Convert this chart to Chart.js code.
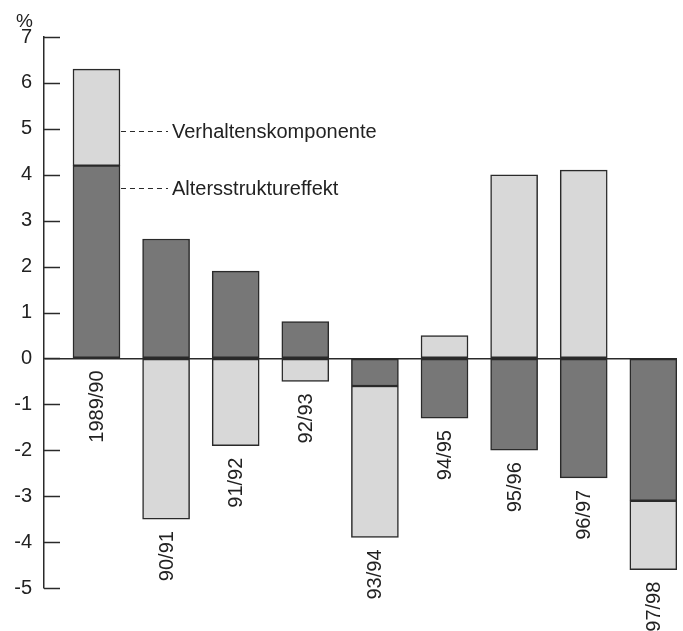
<!DOCTYPE html>
<html>
<head>
<meta charset="utf-8">
<script src="https://cdn.jsdelivr.net/npm/chart.js@4.4.1/dist/chart.umd.min.js"></script>
<style>
  html, body { margin: 0; padding: 0; background: #fff; }
  #wrap { width: 683px; height: 631px; position: relative; }
</style>
</head>
<body>
<div id="wrap"><canvas id="chart"></canvas></div>
<script>
'use strict';

// Daten
const categories = ['1989/90', '90/91', '91/92', '92/93', '93/94', '94/95', '95/96', '96/97', '97/98'];
const altersstruktur = [4.2, 2.6, 1.9, 0.8, -0.6, -1.3, -2.0, -2.6, -3.1];
const verhalten = [2.1, -3.5, -1.9, -0.5, -3.3, 0.5, 4.0, 4.1, -1.5];
const yTicks = { min: -5, max: 7, step: 1 };
const unitLabel = '%';
const annotationTexts = ['Verhaltenskomponente', 'Altersstruktureffekt'];
const annotationValues = [4.95, 3.72];

const FONT = '"Liberation Sans", Arial, sans-serif';
const DARK = '#777777';
const LIGHT = '#d8d8d8';
const EDGE = '#2a2a2a';

// Beschriftungen, Achsenstriche usw.
const extras = {
    id: 'extras',
    afterDatasetsDraw(chart) {
        const ctx = chart.ctx;
        const xs = chart.scales.x;
        const ys = chart.scales.y;
        const area = chart.chartArea;
        ctx.save();

        // Teilstriche nach innen
        ctx.strokeStyle = EDGE;
        ctx.lineWidth = 1.5;
        ys.ticks.forEach(function (t) {
            const y = Math.round(ys.getPixelForValue(t.value)) + 0.5;
            ctx.beginPath();
            ctx.moveTo(area.left, y);
            ctx.lineTo(area.left + 16, y);
            ctx.stroke();
        });

        // Einheit
        ctx.fillStyle = '#222';
        ctx.font = '19px ' + FONT;
        ctx.textAlign = 'right';
        ctx.textBaseline = 'alphabetic';
        ctx.fillText(unitLabel, 33, 27);

        // Kategorien (gedreht, unter dem Balkenende)
        ctx.font = '20px ' + FONT;
        categories.forEach(function (c, i) {
            const neg = Math.min(0, altersstruktur[i]) + Math.min(0, verhalten[i]);
            const x = xs.getPixelForValue(i);
            const y = ys.getPixelForValue(neg) + 12;
            ctx.save();
            ctx.translate(x + 1, y);
            ctx.rotate(-Math.PI / 2);
            ctx.textAlign = 'right';
            ctx.textBaseline = 'middle';
            ctx.fillText(c, 0, 0);
            ctx.restore();
        });

        // Legende am ersten Balken
        const bar = chart.getDatasetMeta(0).data[0];
        const x0 = bar.x + bar.width / 2;
        annotationTexts.forEach(function (txt, k) {
            const y = Math.round(ys.getPixelForValue(annotationValues[k])) + 0.5;
            ctx.setLineDash([5, 4]);
            ctx.lineWidth = 1.2;
            ctx.beginPath();
            ctx.moveTo(x0 + 1, y);
            ctx.lineTo(x0 + 48, y);
            ctx.stroke();
            ctx.setLineDash([]);
            ctx.textAlign = 'left';
            ctx.textBaseline = 'middle';
            ctx.fillText(txt, x0 + 52, y + 1);
        });

        ctx.restore();
    }
};

const chart = new Chart(document.getElementById('chart'), {
    type: 'bar',
    data: {
        datasets: [
            {
                label: annotationTexts[1],
                data: altersstruktur.map((v, i) => ({ x: i, y: v })),
                backgroundColor: DARK,
                borderColor: EDGE,
                borderWidth: 1.5,
                borderSkipped: false,
                barThickness: 47,
                stack: 's'
            },
            {
                label: annotationTexts[0],
                data: verhalten.map((v, i) => ({ x: i, y: v })),
                backgroundColor: LIGHT,
                borderColor: EDGE,
                borderWidth: 1.5,
                borderSkipped: false,
                barThickness: 47,
                stack: 's'
            }
        ]
    },
    options: {
        responsive: true,
        maintainAspectRatio: false,
        animation: false,
        layout: { padding: { top: 37, bottom: 43, left: 0, right: 6 } },
        plugins: {
            legend: { display: false },
            tooltip: { enabled: false }
        },
        scales: {
            x: {
                type: 'linear',
                display: false,
                offset: false,
                min: -0.754,
                max: 8.34,
                grid: { offset: false }
            },
            y: {
                stacked: true,
                min: yTicks.min,
                max: yTicks.max,
                afterFit: function (scale) { scale.width = 44; },
                ticks: {
                    stepSize: yTicks.step,
                    padding: 12,
                    color: '#222',
                    font: { family: FONT, size: 20 }
                },
                grid: {
                    drawTicks: false,
                    color: (c) => c.tick && c.tick.value === 0 ? EDGE : 'rgba(0,0,0,0)',
                    lineWidth: 1.5
                },
                border: { display: true, color: EDGE, width: 1.5 }
            }
        }
    },
    plugins: [extras]
});
</script>
</body>
</html>
